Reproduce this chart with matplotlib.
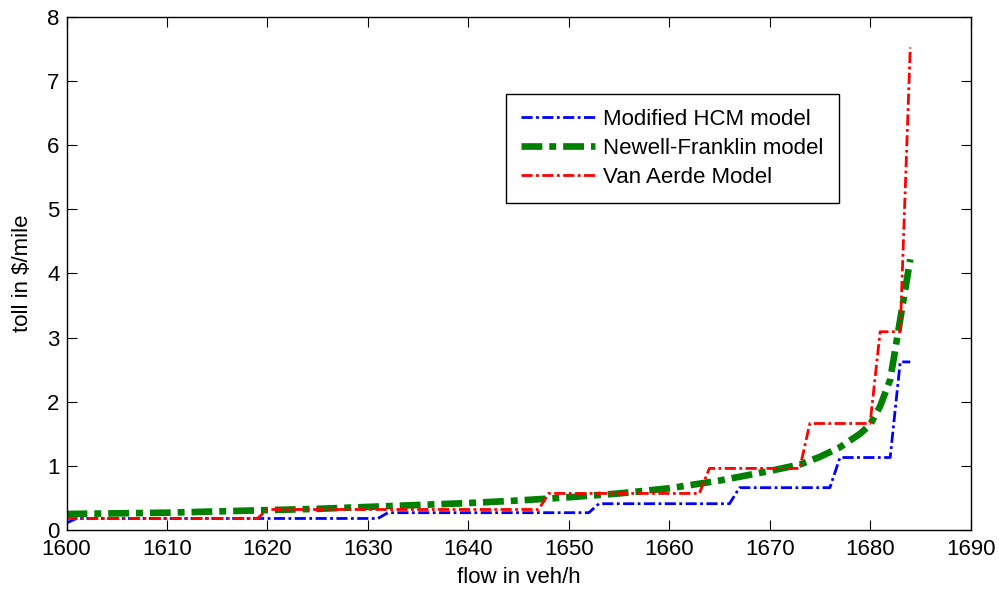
import numpy as np
import matplotlib
matplotlib.use('Agg')
import matplotlib.pyplot as plt

# values
hcm_flow = [1600, 1601, 1631, 1632, 1652, 1653, 1666, 1667, 1676, 1677, 1682, 1683, 1684]
hcm_toll = [0.11, 0.18, 0.18, 0.27, 0.27, 0.41, 0.41, 0.66, 0.66, 1.13, 1.13, 2.62, 2.62]

nf_flow = [1600, 1605, 1610, 1615, 1620, 1625, 1630, 1635, 1640, 1645, 1650, 1655,
           1660, 1665, 1670, 1673, 1675, 1677, 1679, 1680, 1681, 1682, 1683, 1684]
nf_toll = [0.25, 0.26, 0.27, 0.29, 0.31, 0.33, 0.36, 0.39, 0.42, 0.46, 0.51, 0.57,
           0.65, 0.77, 0.92, 1.02, 1.14, 1.29, 1.50, 1.64, 1.93, 2.34, 3.28, 4.22]

va_flow = [1600, 1619, 1620, 1647, 1648, 1663, 1664, 1673, 1674, 1680, 1681, 1683, 1684]
va_toll = [0.18, 0.18, 0.32, 0.32, 0.57, 0.57, 0.96, 0.96, 1.66, 1.66, 3.09, 3.09, 7.52]

plt.rcParams['font.family'] = ['Liberation Sans', 'DejaVu Sans']
plt.rcParams['lines.scale_dashes'] = False

fig = plt.figure(figsize=(9.99, 5.92), dpi=100)
ax = fig.add_axes([0.0666, 0.1047, 0.9049, 0.8671])

ax.plot(hcm_flow, hcm_toll, color='b', lw=2, dashes=(8, 2.5, 2, 2.5),
        label='Modified HCM model')
ax.plot(nf_flow, nf_toll, color='g', lw=4.8, dashes=(15, 5, 5, 5),
        label='Newell-Franklin model')
ax.plot(va_flow, va_toll, color='r', lw=2, dashes=(8, 2.5, 2, 2.5),
        label='Van Aerde Model')

ax.set_xlim(1600, 1690)
ax.set_ylim(0, 8)
ax.set_xticks(np.arange(1600, 1691, 10))
ax.set_yticks(np.arange(0, 9, 1))
ax.tick_params(direction='in', length=7, width=0.8, top=True, right=True,
               labelsize=16)
ax.tick_params(axis='x', pad=6.5)
ax.tick_params(axis='y', pad=5)
for s in ax.spines.values():
    s.set_linewidth(1.0)

ax.set_xlabel('flow in veh/h', fontsize=16, labelpad=5)
ax.set_ylabel('toll in $/mile', fontsize=16, labelpad=10)

leg = ax.legend(loc='upper left', bbox_to_anchor=(0.486, 0.85), fontsize=16,
                handlelength=3.3, handletextpad=0.36, borderpad=0.7,
                borderaxespad=0, labelspacing=0.35, fancybox=False, framealpha=1)
leg.get_frame().set_edgecolor('k')
leg.get_frame().set_linewidth(1.0)

plt.savefig('out.png', dpi=100)
